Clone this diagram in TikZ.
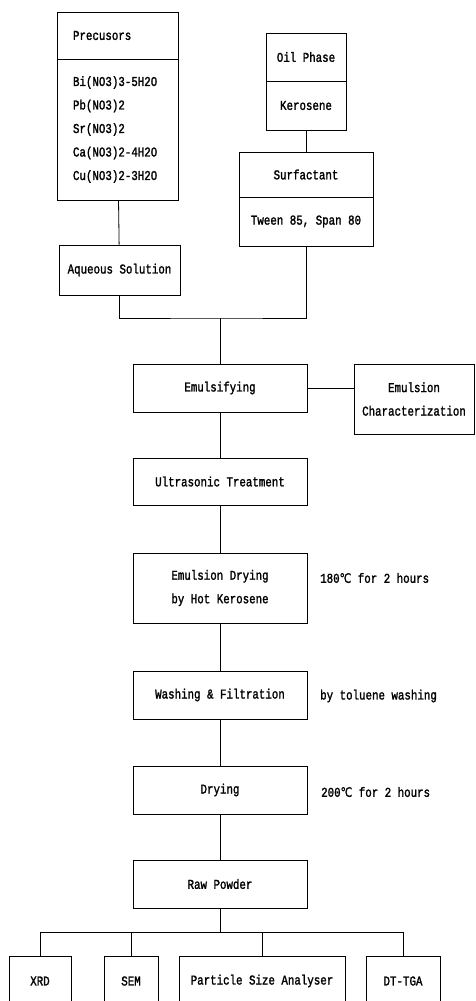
\documentclass[tikz,border=0pt]{standalone}
\usepackage{fontspec}
\newfontfamily\flowfont{Liberation Mono}[FakeStretch=0.8, FakeBold=1.6]
\newfontfamily\degfont{DejaVu Sans}[FakeStretch=0.8, FakeBold=1.2]
\usepackage{tikz}
\usetikzlibrary{%
	positioning,% wg. " of "
	calc
}
\tikzstyle{box}=[draw, rectangle, line width=0.8pt, inner sep=2pt, font=\flowfont\fontsize{13.5}{23.5}\selectfont, align=center]
\tikzstyle{leftbox}=[box, inner xsep=16pt, text width=89pt, align=left]
\tikzstyle{line}=[draw, line width=0.8pt]
\tikzstyle{note}=[font=\flowfont\fontsize{13.5}{14}\selectfont, anchor=west, inner sep=0pt]
\newcommand{\degC}{{\degfont\fontsize{13}{14}\selectfont ℃}}

\begin{document}
\begin{tikzpicture}[x=1pt,y=-1pt]
	\useasboundingbox (0,0) rectangle (476,1001);
	\clip (0,0) rectangle (476,1001);
	
	% First we draw the starting materials
	\node[leftbox, minimum width=121pt, minimum height=47pt] (precHead) at (117.5,35.5) {Precusors};
	\node[leftbox, minimum width=121pt, minimum height=141pt] (precList) at (117.5,129.5)
		{Bi(NO3)3-5H2O\\Pb(NO3)2\\Sr(NO3)2\\Ca(NO3)2-4H2O\\Cu(NO3)2-3H2O};
	\node[box, minimum width=121pt, minimum height=50pt] (aqueous) at (119.5,270) {Aqueous Solution};
	
	\node[box, minimum width=80pt, minimum height=48pt] (oilHead) at (306,57) {Oil Phase};
	\node[box, minimum width=80pt, minimum height=49pt] (oilBody) at (306,105.5) {Kerosene};
	\node[box, minimum width=134pt, minimum height=45pt] (surfHead) at (306,174.5) {Surfactant};
	\node[box, minimum width=134pt, minimum height=49pt] (surfBody) at (306,221.5) {Tween 85, Span 80};
	
	% Then the process steps
	\foreach \pos/\name/\text/\height in {
		{(220,388)/emul/Emulsifying/48pt},
		{(220,481.5)/ultra/Ultrasonic Treatment/47pt},
		{(220,588)/emdry/Emulsion Drying\\by Hot Kerosene/70pt},
		{(220,695)/wash/Washing \& Filtration/48pt},
		{(220,790)/dry/Drying/48pt},
		{(220,884)/raw/Raw Powder/48pt}}
	\node[box, minimum width=174pt, minimum height=\height] (\name) at \pos {\text};
	
	\node[box, minimum width=120pt, minimum height=70pt] (char) at (414,399) {Emulsion\\Characterization};
	
	% Conditions beside the steps
	\node[note] (condDry) at (320,578) {180\degC{} for 2 hours};
	\node[note] (condWash) at (320,696) {by toluene washing};
	\node[note] (condHeat) at (321,792) {200\degC{} for 2 hours};
	
	% Analysis boxes
	\foreach \pos/\name/\text/\width in {
		{(40,981)/xrd/XRD/62pt},
		{(131,981)/sem/SEM/54pt},
		{(262,981)/psa/Particle Size Analyser/166pt},
		{(403,981)/tga/DT-TGA/74pt}}
	\node[box, minimum width=\width, minimum height=50pt] (\name) at \pos {\text};
	
	% Connect the boxes
	\coordinate (join) at (220,318);
	\coordinate (split) at (220,932);
	\path[line] (precList) -- (aqueous);
	\path[line] (oilBody) -- (surfHead);
	\path[line] (aqueous.south) |- (join) -| (surfBody.south);
	\path[line] (join) -- (emul.north);
	\foreach \source/\dest in {emul/ultra, ultra/emdry, emdry/wash, wash/dry, dry/raw}
	\path[line] (\source) -- (\dest);
	\path[line] (emul.east) -- (emul.east -| char.west);
	
	\path[line] (raw.south) -- (split);
	\path[line] (split -| xrd.north) -- (split -| tga.north);
	\foreach \dest in {xrd, sem, psa, tga}
	\path[line] (split -| \dest.north) -- (\dest.north);
	
\end{tikzpicture}
\end{document}
